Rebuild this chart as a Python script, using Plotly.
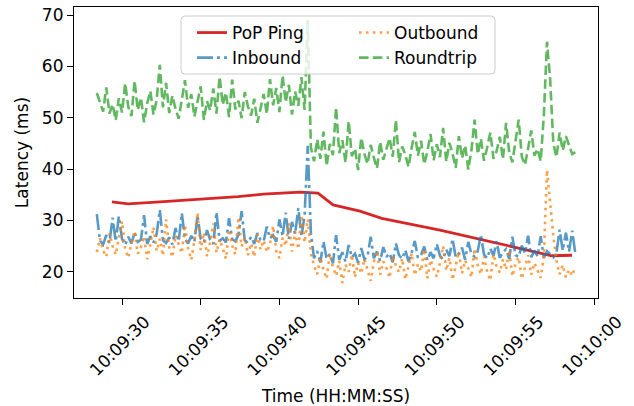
import pandas as pd
import plotly.graph_objects as go

DAY = "2024-01-01 "

# Per-probe latency samples (ms), one every 200 ms starting 10:09:28.4
SAMPLE_START = DAY + "10:09:28.4"
SAMPLE_STEP = "200ms"

roundtrip = [
    54.8, 53.0, 51.2, 55.9, 50.8, 52.6, 49.5, 53.8, 51.0, 56.7,
    52.1, 50.3, 57.2, 51.5, 53.9, 49.1, 52.8, 55.2, 50.6, 53.4,
    60.3, 52.0, 56.8, 50.9, 54.3, 51.7, 49.8, 53.5, 57.3, 51.9,
    54.6, 50.2, 52.9, 56.1, 49.6, 53.2, 51.4, 55.7, 50.8, 58.0,
    52.5, 54.9, 50.1, 57.4, 51.6, 53.3, 49.9, 55.0, 52.2, 50.4,
    53.7, 49.0, 51.8, 54.6, 50.7, 57.5, 52.4, 55.8, 51.1, 58.2,
    53.0, 56.4, 50.6, 55.1, 52.3, 57.9, 51.5, 69.0, 44.2, 41.5,
    45.8, 42.0, 47.3, 40.6, 44.9, 42.7, 52.0, 43.1, 45.6, 41.2,
    49.3, 42.5, 44.0, 39.8, 46.1, 42.9, 41.0, 44.7, 42.2, 40.1,
    45.3, 41.8, 43.9, 46.0, 42.4, 49.6, 41.3, 44.4, 42.8, 40.4,
    44.1, 47.2, 42.6, 45.5, 40.9, 43.4, 46.8, 41.7, 44.8, 42.3,
    48.0, 41.4, 45.1, 43.0, 40.2, 46.4, 42.1, 44.6, 39.9, 43.7,
    49.6, 42.9, 45.9, 41.6, 44.2, 47.1, 42.0, 43.5, 46.3, 41.9,
    49.0, 43.2, 41.3, 45.4, 49.6, 42.4, 40.8, 44.0, 47.5, 42.6,
    43.9, 41.5, 50.5, 64.8, 57.5, 45.0, 42.3, 47.1, 43.6, 46.4,
    44.5, 42.9, 43.3,
]

inbound = [
    31.2, 26.0, 25.3, 27.1, 25.6, 30.5, 25.9, 30.8, 26.4, 25.2,
    26.8, 25.5, 27.6, 25.8, 26.2, 31.0, 25.4, 26.9, 25.7, 27.3,
    32.0, 26.1, 25.6, 26.7, 25.3, 28.5, 25.9, 31.4, 26.3, 25.5,
    27.0, 25.8, 30.9, 26.4, 25.7, 28.1, 26.2, 25.4, 31.6, 26.0,
    26.5, 25.7, 30.4, 26.3, 25.9, 27.2, 31.8, 26.1, 25.6, 26.8,
    25.4, 27.5, 26.2, 25.9, 28.8, 26.5, 27.1, 25.8, 30.2, 26.9,
    31.5, 26.4, 29.7, 27.3, 32.4, 26.8, 31.0, 44.5, 27.5, 22.6,
    24.0, 21.8, 25.9, 22.5, 23.4, 21.6, 27.1, 22.3, 23.8, 21.9,
    25.2, 22.8, 23.5, 21.7, 24.6, 22.4, 23.0, 26.8, 22.6, 23.9,
    22.1, 24.8, 22.9, 23.6, 21.8, 25.5, 23.2, 22.5, 24.2, 22.0,
    23.7, 26.0, 22.7, 23.3, 24.9, 22.2, 23.8, 22.6, 25.4, 23.1,
    22.4, 24.3, 23.0, 26.4, 22.8, 23.5, 24.7, 22.3, 25.8, 23.4,
    22.9, 24.0, 27.2, 23.3, 22.6, 24.5, 23.1, 25.9, 22.7, 23.8,
    24.4, 22.5, 26.8, 23.2, 22.9, 25.1, 23.6, 27.0, 22.8, 24.1,
    23.0, 26.9, 22.7, 24.0, 23.4, 22.8, 23.6, 28.2, 24.1, 27.6,
    23.9, 28.0, 23.5,
]

outbound = [
    23.8, 26.5, 24.1, 22.9, 27.4, 25.0, 23.3, 26.2, 29.8, 24.4,
    22.7, 25.6, 27.9, 23.5, 24.8, 26.9, 22.4, 25.3, 28.7, 24.0,
    26.4, 23.1, 30.2, 24.7, 22.8, 27.1, 25.2, 23.6, 29.1, 24.5,
    22.3, 26.0, 31.5, 24.2, 27.6, 23.0, 25.8, 29.4, 23.7, 26.3,
    24.6, 22.5, 28.2, 25.1, 23.4, 30.6, 24.9, 26.7, 23.2, 25.5,
    22.9, 27.3, 24.3, 26.1, 23.8, 25.4, 28.9, 24.0, 22.6, 26.6,
    25.0, 29.5, 23.9, 27.8, 24.4, 31.0, 25.7, 30.2, 23.5, 21.2,
    19.5, 22.8, 20.4, 18.6, 23.5, 20.9, 19.2, 22.1, 17.8, 21.4,
    20.0, 23.3, 18.9, 21.7, 19.6, 22.5, 20.3, 18.2, 21.9, 24.0,
    19.4, 22.0, 20.7, 18.8, 23.1, 21.2, 19.9, 22.6, 18.5, 20.8,
    23.6, 19.3, 21.5, 20.1, 24.4, 18.7, 22.3, 20.5, 19.0, 21.8,
    25.0, 20.2, 22.7, 18.4, 21.1, 23.9, 19.7, 22.2, 20.6, 18.9,
    24.5, 21.3, 19.5, 22.9, 20.0, 18.3, 23.4, 21.0, 19.8, 22.4,
    20.4, 24.2, 19.1, 21.6, 22.8, 18.6, 20.9, 23.2, 19.4, 21.7,
    20.2, 18.8, 23.0, 39.8, 33.5, 27.0, 22.1, 19.5, 21.3, 18.9,
    20.4, 19.2, 21.0,
]

# PoP ping readings: seconds past 10:09:00 and latency (ms)
ping_secs = [29.36, 30.38, 32.41, 34.96, 37.37, 38.96, 41.31, 42.45,
             43.41, 45.12, 46.50, 50.20, 53.81, 57.30, 58.59]
ping_ms = [33.6, 33.2, 33.6, 34.1, 34.6, 35.1, 35.5, 35.3,
           33.0, 31.8, 30.4, 28.1, 25.5, 23.1, 23.2]

sample_t = pd.date_range(SAMPLE_START, periods=len(roundtrip), freq=SAMPLE_STEP)
ping_base = pd.Timestamp(DAY + "10:09:00")
ping_t = [ping_base + pd.Timedelta(seconds=s) for s in ping_secs]

FONT = "DejaVu Sans"
FS = 17

fig = go.Figure()

# first legend column
fig.add_trace(go.Scatter(
    x=ping_t, y=ping_ms, mode="lines", name="PoP Ping",
    line=dict(color="#d62728", width=2.8), legend="legend"))
fig.add_trace(go.Scatter(
    x=sample_t, y=inbound, mode="lines", name="Inbound",
    line=dict(color="rgba(31,119,180,0.75)", width=2.6,
              dash="16px,4px,3px,4px"), legend="legend"))
# second legend column
fig.add_trace(go.Scatter(
    x=sample_t, y=outbound, mode="lines", name="Outbound",
    line=dict(color="rgba(255,127,14,0.75)", width=2.6,
              dash="2.6px,4.3px"), legend="legend2"))
fig.add_trace(go.Scatter(
    x=sample_t, y=roundtrip, mode="lines", name="Roundtrip",
    line=dict(color="rgba(44,160,44,0.75)", width=2.6,
              dash="9.6px,4.2px"), legend="legend2"))

# Plot-area geometry in pixels (used for the legend frame)
W, H = 634, 406
ML, MR, MT, MB = 74, 36, 7, 108
PW, PH = W - ML - MR, H - MT - MB


def px_x(x):
    return (x - ML) / PW


def px_y(y):
    return 1 - (y - MT) / PH


# rounded legend frame shared by both legend columns
x0, x1, y0, y1 = px_x(181), px_x(495), px_y(16), px_y(74)
rx, ry = 4 / PW, 4 / PH
frame_path = (
    f"M{x0 + rx},{y0} L{x1 - rx},{y0} Q{x1},{y0} {x1},{y0 - ry} "
    f"L{x1},{y1 + ry} Q{x1},{y1} {x1 - rx},{y1} "
    f"L{x0 + rx},{y1} Q{x0},{y1} {x0},{y1 + ry} "
    f"L{x0},{y0 - ry} Q{x0},{y0} {x0 + rx},{y0} Z"
)
fig.add_shape(type="path", path=frame_path, xref="paper", yref="paper",
              fillcolor="rgba(255,255,255,0.8)",
              line=dict(color="rgb(204,204,204)", width=1), layer="above")

legend_common = dict(
    bgcolor="rgba(0,0,0,0)", borderwidth=0, orientation="v",
    yanchor="top", xanchor="left", font=dict(family=FONT, size=FS, color="black"),
    tracegroupgap=0, itemwidth=30,
)

axis_common = dict(
    showline=True, mirror=True, linecolor="black", linewidth=1.2,
    ticks="outside", ticklen=6, tickwidth=1.2, tickcolor="black",
    showgrid=False, zeroline=False, automargin=False,
    tickfont=dict(family=FONT, size=FS, color="black"),
)

fig.update_layout(
    width=W, height=H,
    margin=dict(l=ML, r=MR, t=MT, b=MB, autoexpand=False),
    paper_bgcolor="white", plot_bgcolor="white",
    font=dict(family=FONT, size=FS, color="black"),
    legend=dict(x=px_x(192), y=px_y(15), **legend_common),
    legend2=dict(x=px_x(354), y=px_y(15), **legend_common),
    xaxis=dict(
        type="date",
        range=[DAY + "10:09:26.95", DAY + "10:10:00.24"],
        tick0=DAY + "10:09:30", dtick=5000, tickformat="%H:%M:%S",
        tickangle=-45, ticklabelshift=23,
        title=dict(text="Time (HH:MM:SS)", standoff=11,
                   font=dict(family=FONT, size=FS, color="black")),
        **axis_common,
    ),
    yaxis=dict(
        range=[14.87, 71.56], tickvals=[20, 30, 40, 50, 60, 70],
        title=dict(text="Latency (ms)", standoff=8,
                   font=dict(family=FONT, size=FS, color="black")),
        **axis_common,
    ),
)

fig.write_html("out.html")
